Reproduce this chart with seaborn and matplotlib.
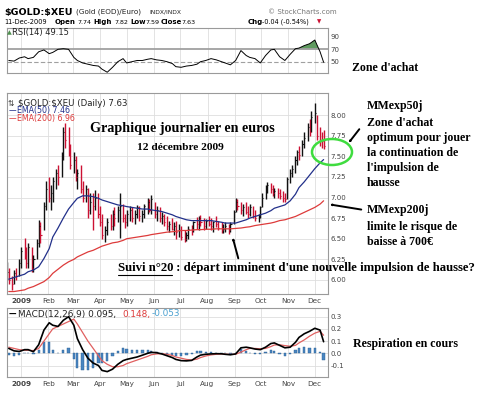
import numpy as np
import pandas as pd
import matplotlib
matplotlib.use("Agg")
import matplotlib.pyplot as plt
import matplotlib.dates as mdates
import seaborn as sns
from matplotlib.patches import Ellipse

# ---------------- data ----------------
price_high = [6.22, 6.15, 6.05, 6.12, 6.15, 6.25, 6.40, 6.51, 6.40, 6.45,
              6.40, 6.30, 6.50, 6.73, 6.70, 6.95, 7.20, 7.25, 7.15, 7.25,
              7.35, 7.40, 7.55, 7.85, 7.90, 7.85, 7.65, 7.55, 7.50, 7.35,
              7.40, 7.20, 7.15, 7.12, 7.05, 7.05, 7.09, 7.05, 6.90, 6.80,
              6.65, 6.75, 6.80, 6.85, 6.88, 6.90, 7.05, 6.92, 6.80, 6.85,
              6.90, 6.88, 6.85, 6.91, 6.90, 6.85, 6.92, 7.00, 6.98, 7.03,
              6.95, 6.90, 6.88, 6.82, 6.80, 6.78, 6.72, 6.75, 6.70, 6.72,
              6.68, 6.65, 6.60, 6.58, 6.65, 6.67, 6.72, 6.76, 6.78, 6.79,
              6.75, 6.74, 6.78, 6.75, 6.72, 6.78, 6.72, 6.70, 6.68, 6.70,
              6.68, 6.70, 6.85, 7.00, 6.98, 6.95, 6.92, 6.95, 6.90, 6.92,
              6.90, 6.85, 6.80, 6.90, 7.05, 7.15, 7.19, 7.18, 7.15, 7.12,
              7.12, 7.10, 7.08, 7.05, 7.25, 7.35, 7.40, 7.50, 7.58, 7.62,
              7.70, 7.80, 7.90, 7.95, 8.05, 8.15, 8.00, 7.85, 7.80, 7.82]
price_low = [6.00, 5.95, 5.88, 5.95, 6.00, 6.05, 6.15, 6.25, 6.15, 6.15,
             6.10, 6.10, 6.25, 6.40, 6.45, 6.60, 6.85, 6.95, 6.85, 6.95,
             7.10, 7.15, 7.25, 7.45, 7.60, 7.50, 7.35, 7.30, 7.20, 7.10,
             7.05, 6.95, 6.95, 6.75, 6.80, 6.60, 6.85, 6.75, 6.65, 6.50,
             6.46, 6.55, 6.60, 6.60, 6.65, 6.70, 6.51, 6.70, 6.63, 6.65,
             6.72, 6.70, 6.68, 6.75, 6.72, 6.70, 6.75, 6.80, 6.82, 6.80,
             6.75, 6.72, 6.70, 6.68, 6.65, 6.60, 6.58, 6.60, 6.55, 6.50,
             6.52, 6.48, 6.46, 6.47, 6.50, 6.55, 6.58, 6.62, 6.60, 6.65,
             6.60, 6.62, 6.65, 6.60, 6.58, 6.64, 6.60, 6.57, 6.57, 6.58,
             6.56, 6.58, 6.68, 6.82, 6.85, 6.80, 6.78, 6.80, 6.75, 6.78,
             6.75, 6.72, 6.70, 6.75, 6.88, 6.98, 7.05, 7.05, 7.02, 7.00,
             7.00, 6.98, 6.95, 6.94, 6.98, 7.18, 7.25, 7.30, 7.40, 7.45,
             7.50, 7.60, 7.68, 7.75, 7.80, 7.90, 7.70, 7.62, 7.60, 7.59]
price_close = [6.10, 6.00, 5.95, 6.08, 6.05, 6.20, 6.35, 6.30, 6.20, 6.40,
               6.15, 6.25, 6.45, 6.65, 6.55, 6.90, 7.10, 7.00, 7.05, 7.20,
               7.30, 7.25, 7.50, 7.80, 7.70, 7.55, 7.40, 7.45, 7.25, 7.30,
               7.10, 7.00, 7.10, 6.85, 6.95, 6.90, 7.00, 6.80, 6.70, 6.55,
               6.60, 6.70, 6.65, 6.80, 6.75, 6.85, 6.90, 6.75, 6.70, 6.80,
               6.85, 6.75, 6.80, 6.88, 6.78, 6.80, 6.90, 6.95, 6.85, 6.98,
               6.80, 6.85, 6.75, 6.78, 6.70, 6.65, 6.68, 6.62, 6.65, 6.58,
               6.60, 6.52, 6.50, 6.55, 6.62, 6.60, 6.70, 6.68, 6.75, 6.70,
               6.65, 6.72, 6.68, 6.65, 6.70, 6.68, 6.63, 6.60, 6.62, 6.65,
               6.60, 6.68, 6.82, 6.95, 6.90, 6.85, 6.88, 6.82, 6.80, 6.88,
               6.78, 6.75, 6.78, 6.88, 7.00, 7.12, 7.15, 7.10, 7.05, 7.08,
               7.05, 7.02, 7.00, 6.98, 7.22, 7.30, 7.35, 7.45, 7.55, 7.52,
               7.65, 7.72, 7.85, 7.80, 7.98, 8.02, 7.75, 7.70, 7.68, 7.63]

ema50 = [6.01, 6.03, 6.05, 6.07, 6.10, 6.12, 6.16, 6.26, 6.38, 6.52,
         6.63, 6.75, 6.86, 6.94, 6.99, 7.02, 7.02, 7.01, 6.99, 6.97,
         6.95, 6.93, 6.91, 6.90, 6.89, 6.88, 6.87, 6.86, 6.86, 6.85,
         6.84, 6.83, 6.81, 6.79, 6.77, 6.75, 6.73, 6.72, 6.72, 6.72,
         6.72, 6.72, 6.71, 6.70, 6.69, 6.69, 6.69, 6.71, 6.73, 6.75,
         6.77, 6.79, 6.81, 6.84, 6.87, 6.89, 6.91, 6.96, 7.04, 7.12,
         7.19, 7.27, 7.35, 7.42, 7.46]
ema200 = [5.86, 5.86, 5.87, 5.88, 5.90, 5.92, 5.95, 5.98, 6.03, 6.08,
          6.13, 6.18, 6.22, 6.25, 6.28, 6.31, 6.34, 6.36, 6.39, 6.41,
          6.43, 6.45, 6.46, 6.48, 6.50, 6.51, 6.52, 6.53, 6.54, 6.55,
          6.56, 6.57, 6.58, 6.585, 6.59, 6.60, 6.60, 6.605, 6.61, 6.61,
          6.615, 6.615, 6.62, 6.62, 6.62, 6.62, 6.625, 6.63, 6.64, 6.645,
          6.66, 6.67, 6.68, 6.69, 6.70, 6.72, 6.73, 6.75, 6.77, 6.79,
          6.82, 6.85, 6.88, 6.92, 6.96]
rsi14 = [52, 51, 56, 58, 55, 57, 66, 69, 63, 65,
         70, 71, 70, 57, 52, 48, 46, 44, 43, 38,
         33, 41, 50, 55, 48, 50, 52, 52, 54, 55,
         53, 52, 50, 47, 42, 41, 43, 44, 46, 50,
         52, 55, 53, 50, 48, 45, 52, 68, 60, 57,
         55, 48, 60, 69, 70, 58, 52, 62, 71, 72,
         76, 79, 85, 66, 49.15]
macd_line = [0.04, 0.02, 0.015, 0.03, 0.03, 0.013, 0.07, 0.19, 0.25, 0.23,
             0.22, 0.27, 0.30, 0.23, 0.12, 0.03, -0.04, -0.08, -0.10, -0.14,
             -0.15, -0.13, -0.09, -0.06, -0.05, -0.04, -0.03, -0.015, 0.0, 0.008,
             0.005, -0.005, -0.02, -0.035, -0.05, -0.06, -0.062, -0.058, -0.03, -0.015,
             -0.008, -0.005, -0.003, -0.004, -0.008, -0.012, -0.005, 0.045, 0.05, 0.045,
             0.035, 0.03, 0.05, 0.08, 0.085, 0.065, 0.045, 0.05, 0.09, 0.13,
             0.16, 0.18, 0.205, 0.19, 0.095]
macd_signal = [0.05, 0.04, 0.03, 0.025, 0.025, 0.022, 0.04, 0.10, 0.16, 0.20,
               0.22, 0.24, 0.26, 0.28, 0.24, 0.17, 0.10, 0.04, -0.02, -0.06,
               -0.09, -0.11, -0.11, -0.10, -0.085, -0.07, -0.055, -0.04, -0.025, -0.012,
               -0.005, -0.003, -0.008, -0.018, -0.03, -0.04, -0.05, -0.055, -0.048, -0.035,
               -0.022, -0.013, -0.008, -0.006, -0.007, -0.009, -0.008, 0.01, 0.03, 0.04,
               0.04, 0.037, 0.04, 0.055, 0.068, 0.07, 0.063, 0.058, 0.065, 0.085,
               0.11, 0.14, 0.165, 0.18, 0.148]
month_labels = ["2009", "Feb", "Mar", "Apr", "May", "Jun", "Jul", "Aug",
                "Sep", "Oct", "Nov", "Dec"]

bar_dates = pd.bdate_range(end="2009-12-11", periods=259)[::2]
ind_dates = bar_dates[1::2]

high = np.array(price_high)
low = np.array(price_low)
close = np.array(price_close)
rsi = np.array(rsi14, dtype=float)
macd = np.array(macd_line)
sig = np.array(macd_signal)
hist = macd - sig

# ---------------- figure ----------------
sns.set_theme(style="white")
plt.rcParams["font.family"] = ["DejaVu Sans"]

W, H = 493, 396
fig = plt.figure(figsize=(W / 100, H / 100), dpi=100)
fig.patch.set_facecolor("white")


def ax_box(x0, y0, x1, y1):
    return fig.add_axes([x0 / W, 1 - y1 / H, (x1 - x0) / W, (y1 - y0) / H])


def ftext(x, y, s, **kw):
    kw.setdefault("va", "center")
    kw.setdefault("ha", "left")
    return fig.text(x / W, 1 - y / H, s, parse_math=False, **kw)


ax_r = ax_box(7, 28, 328, 73)
ax_p = ax_box(7, 93, 328, 294)
ax_m = ax_box(7, 308, 328, 377)

xl = (pd.Timestamp("2008-12-16"), pd.Timestamp("2009-12-16"))
grid_c = "#dedede"
tick_c = "#444444"
for ax in (ax_r, ax_p, ax_m):
    ax.set_facecolor("white")
    ax.set_xlim(*xl)
    ax.xaxis.set_major_locator(mdates.MonthLocator())
    ax.grid(True, color=grid_c, lw=0.6)
    ax.set_axisbelow(True)
    for s in ax.spines.values():
        s.set_color("#9a9a9a")
        s.set_linewidth(0.8)
    ax.yaxis.tick_right()
    ax.tick_params(axis="both", length=0, labelsize=5, colors=tick_c, pad=2)


def month_fmt(x, pos=None):
    d = mdates.num2date(x)
    return month_labels[d.month - 1] if d.year == 2009 else ""


for ax in (ax_p, ax_m):
    ax.xaxis.set_major_formatter(plt.FuncFormatter(month_fmt))
    ax.tick_params(axis="x", labelsize=5.2, pad=3)
ax_r.set_xticklabels([])

# ---------- RSI ----------
ax_r.set_ylim(31.8, 104.4)
ax_r.set_yticks([50, 70, 90])
ax_r.yaxis.grid(False)
ax_r.axhline(70, color="#a0a0a0", lw=1.3)
ax_r.axhline(30, color="#a0a0a0", lw=1.3)
ax_r.axhline(50, color="#a0a0a0", lw=0.8, ls=(0, (4, 2)))
ax_r.fill_between(ind_dates, 70, rsi, where=rsi > 70, interpolate=True,
                  color="#5f9a5f", lw=0)
sns.lineplot(x=ind_dates, y=rsi, ax=ax_r, color="black", lw=0.7)
ax_r.set_xlabel("")
ax_r.set_ylabel("")
ftext(7, 33, "\u25b2", fontsize=4.5, color="#4f8f4f")
ftext(12, 33, "RSI(14) 49.15", fontsize=6, color="#222222")

# ---------- Price ----------
ax_p.set_ylim(5.83, 8.267)
ax_p.set_yticks([6.00, 6.25, 6.50, 6.75, 7.00, 7.25, 7.50, 7.75, 8.00])
ax_p.yaxis.set_major_formatter(plt.FormatStrFormatter("%.2f"))
prev = np.concatenate([[close[0]], close[:-1]])
cols = np.where(close >= prev, "#111111", "#cc1133")
ax_p.vlines(bar_dates, low, high, colors=cols, lw=1.0)
ax_p.hlines(close, bar_dates, bar_dates + pd.Timedelta(days=1.3), colors=cols, lw=0.8)
sns.lineplot(x=ind_dates, y=ema200, ax=ax_p, color="#dd3b3b", lw=0.9)
sns.lineplot(x=ind_dates, y=ema50, ax=ax_p, color="#22308a", lw=0.9)
ax_p.set_xlabel("")
ax_p.set_ylabel("")

ftext(8, 103, "\u21c5", fontsize=5.5, color="#333333")
ftext(18, 103, "$GOLD:$XEU (Daily) 7.63", fontsize=6.2, color="#222222")
ftext(9, 111, "\u2014", fontsize=5.5, color="#22308a")
ftext(17, 111, "EMA(50) 7.46", fontsize=5.7, color="#22308a")
ftext(9, 119, "\u2014", fontsize=5.5, color="#dd3b3b")
ftext(17, 119, "EMA(200) 6.96", fontsize=5.7, color="#dd3b3b")

# ---------- MACD ----------
ax_m.set_ylim(-0.194, 0.371)
ax_m.set_yticks([-0.1, 0.0, 0.1, 0.2, 0.3])
ax_m.yaxis.set_major_formatter(plt.FormatStrFormatter("%.1f"))
ax_m.bar(ind_dates, hist, width=2.6, color="#4a86c0", edgecolor="#2a5f95", lw=0.3)
sns.lineplot(x=ind_dates, y=sig, ax=ax_m, color="#e06060", lw=0.9)
sns.lineplot(x=ind_dates, y=macd, ax=ax_m, color="black", lw=1.2)
ax_m.set_xlabel("")
ax_m.set_ylabel("")
fig.canvas.draw()
for ax in (ax_p, ax_m):
    for lab in ax.get_xticklabels():
        if lab.get_text() == "2009":
            lab.set_fontweight("bold")
ftext(9, 314, "\u2014", fontsize=5.5, color="black", fontweight="bold")
ftext(18, 314, "MACD(12,26,9) 0.095,", fontsize=6.4, color="#222222")
ftext(122, 314, "0.148,", fontsize=6.4, color="#dd3b3b")
ftext(152, 314, "-0.053", fontsize=6.4, color="#4aa0d0")

# ---------- header ----------
ftext(4, 12, "$GOLD:$XEU", fontsize=6.8, fontweight="bold", color="black")
ftext(76, 12, "(Gold (EOD)/Euro)", fontsize=5.2, color="#222222")
ftext(149, 12, "INDX/INDX", fontsize=4.3, color="#222222")
ftext(268, 12, "\u00a9 StockCharts.com", fontsize=5, color="#777777")
ftext(4, 22, "11-Dec-2009", fontsize=4.8, color="black")
ftext(55, 22, "Open", fontsize=5.0, fontweight="bold", color="black")
ftext(77, 22, "7.74", fontsize=4.6, color="black")
ftext(93, 22, "High", fontsize=5.0, fontweight="bold", color="black")
ftext(114, 22, "7.82", fontsize=4.6, color="black")
ftext(130, 22, "Low", fontsize=5.0, fontweight="bold", color="black")
ftext(145, 22, "7.59", fontsize=4.6, color="black")
ftext(161, 22, "Close", fontsize=5.0, fontweight="bold", color="black")
ftext(181, 22, "7.63", fontsize=4.6, color="black")
ftext(248, 22, "Chg", fontsize=5.0, fontweight="bold", color="black")
ftext(262, 22, "-0.04 (-0.54%)", fontsize=4.7, color="black")
ftext(317, 22, "\u25bc", fontsize=4, color="#cc1133")

# ---------- annotations ----------
serif = dict(family=["Liberation Serif", "DejaVu Serif"], fontweight="bold", color="black")
ftext(90, 128, "Graphique journalier en euros", fontsize=10.2, **serif)
ftext(137, 147, "12 d\u00e9cembre 2009", fontsize=8.2, **serif)
ftext(118, 268, "Suivi n\u00b020", fontsize=9.2, **serif)
ftext(173, 268, " : d\u00e9part imminent d'une nouvelle impulsion de hausse?", fontsize=9.2, **serif)
fig.add_artist(plt.Line2D([118 / W, 172 / W], [1 - 275 / H, 1 - 275 / H], color="black", lw=0.8))

right_lines = [(106, "MMexp50j"), (123, "Zone d'achat"), (138, "optimum pour jouer"),
               (153, "la continuation de"), (168, "l'impulsion de"), (183, "hausse"),
               (210, "MMexp200j"), (227, "limite le risque de"), (242, "baisse \u00e0 700\u20ac")]
for yy, s in right_lines:
    ftext(367, yy, s, fontsize=8.6, **serif)
ftext(352, 68, "Zone d'achat", fontsize=8.6, **serif)
ftext(353, 344, "Respiration en cours", fontsize=8.6, **serif)

arrow = dict(arrowstyle="-|>,head_length=0.5,head_width=0.25", color="black", lw=1.4)
for (tx, ty), (hx, hy) in [((361, 127), (347, 145)),
                             ((364, 210), (327, 204)),
                             ((239, 261), (232, 235))]:
    fig.add_artist(matplotlib.patches.FancyArrowPatch(
        (tx / W, 1 - ty / H), (hx / W, 1 - hy / H), transform=fig.transFigure,
        **arrow))

fig.add_artist(Ellipse((332 / W, 1 - 152 / H), 40 / W, 26 / H, transform=fig.transFigure,
                       fill=False, edgecolor="#3fdc3f", lw=1.8))

fig.savefig("out.png", dpi=100, facecolor="white")
